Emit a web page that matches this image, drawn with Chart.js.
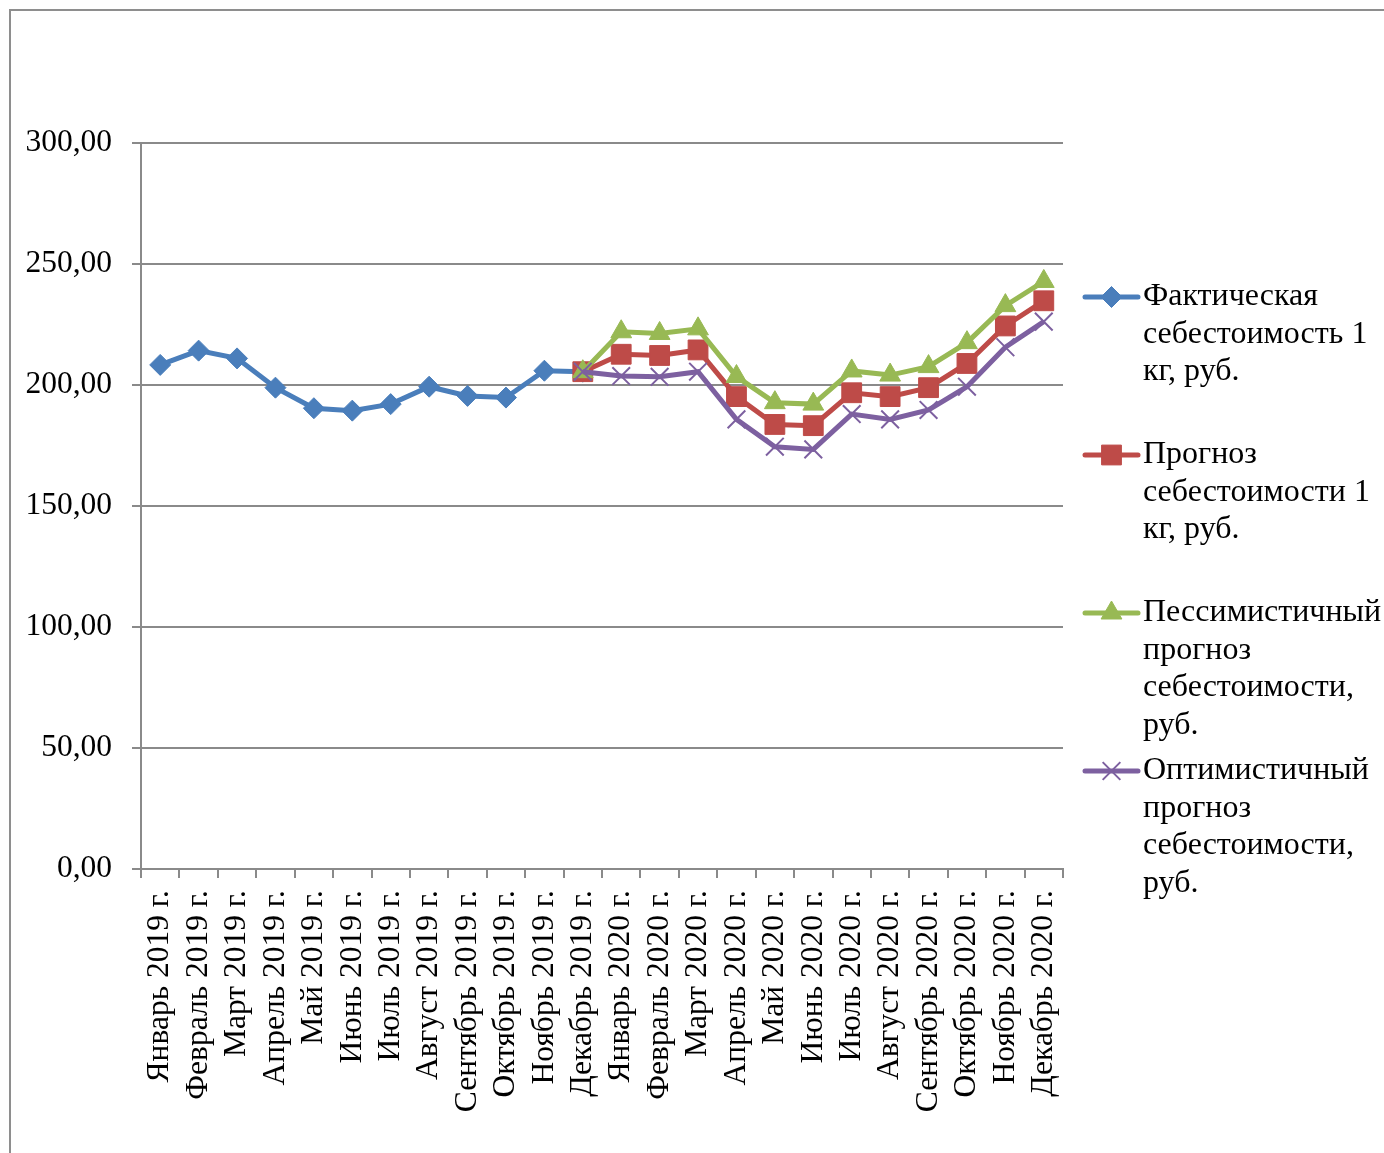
<!DOCTYPE html>
<html lang="ru">
<head>
<meta charset="utf-8">
<title>Себестоимость 1 кг, руб.</title>
<script src="https://cdn.jsdelivr.net/npm/chart.js@4/dist/chart.umd.min.js"></script>
<style>
  html, body { margin: 0; padding: 0; background: #ffffff; overflow: hidden; }
  #frame {
    position: absolute; left: 9px; top: 9px; width: 1420px; height: 1200px;
    border: 2px solid #8e8e8e; box-sizing: border-box;
  }
  #chart { position: absolute; left: 0; top: 0; }
</style>
</head>
<body>
<div id="frame"></div>
<canvas id="chart" width="1384" height="1153"></canvas>
<script>
// Months on the category axis
const categories = [
  'Январь 2019 г.', 'Февраль 2019 г.', 'Март 2019 г.', 'Апрель 2019 г.',
  'Май 2019 г.', 'Июнь 2019 г.', 'Июль 2019 г.', 'Август 2019 г.',
  'Сентябрь 2019 г.', 'Октябрь 2019 г.', 'Ноябрь 2019 г.', 'Декабрь 2019 г.',
  'Январь 2020 г.', 'Февраль 2020 г.', 'Март 2020 г.', 'Апрель 2020 г.',
  'Май 2020 г.', 'Июнь 2020 г.', 'Июль 2020 г.', 'Август 2020 г.',
  'Сентябрь 2020 г.', 'Октябрь 2020 г.', 'Ноябрь 2020 г.', 'Декабрь 2020 г.'
];

// Actual cost of 1 kg, rub. (2019)
const actualCost = [
  208.3, 214.2, 211.0, 198.9, 190.4, 189.4, 192.1, 199.3, 195.5, 194.8, 205.9, 205.5,
  null, null, null, null, null, null, null, null, null, null, null, null
];

// Forecast of cost of 1 kg, rub. (from December 2019)
const forecastCost = [
  null, null, null, null, null, null, null, null, null, null, null, 205.5,
  212.7, 212.2, 214.5, 195.2, 183.7, 183.2, 196.8, 195.2, 198.9, 208.9, 224.4, 234.8
];

// Pessimistic forecast, rub.
const pessimisticCost = [
  null, null, null, null, null, null, null, null, null, null, null, 205.5,
  222.0, 221.3, 223.2, 203.5, 192.7, 192.1, 205.8, 204.1, 207.6, 217.5, 232.8, 242.8
];

// Optimistic forecast, rub.
const optimisticCost = [
  null, null, null, null, null, null, null, null, null, null, null, 205.5,
  203.7, 203.4, 205.5, 185.8, 174.5, 173.4, 188.0, 185.8, 189.7, 199.3, 215.6, 226.2
];

// Legend captions, one array of lines per series
const seriesNames = [
  ['Фактическая', 'себестоимость 1', 'кг, руб.'],
  ['Прогноз', 'себестоимости 1', 'кг, руб.'],
  ['Пессимистичный', 'прогноз', 'себестоимости,', 'руб.'],
  ['Оптимистичный', 'прогноз', 'себестоимости,', 'руб.']
];

// Value axis range
const yMin = 0;
const yMax = 300;
const yStep = 50;

const FONT = '"Liberation Serif", "Times New Roman", serif';
const GRID = '#8a8a8a';

function series(name, data, color, style, radius, order, borderW) {
  return {
    label: name.join(' '),
    legendLines: name,
    data: data,
    borderColor: color,
    backgroundColor: color,
    borderWidth: 5,
    pointStyle: style,
    pointRadius: radius,
    pointHoverRadius: radius,
    pointBackgroundColor: color,
    pointBorderColor: color,
    pointBorderWidth: borderW,
    tension: 0,
    spanGaps: false,
    order: order
  };
}

// Legend drawn to the right of the plot, one slot per series
const sideLegend = {
  id: 'sideLegend',
  afterDraw(chart) {
    const ctx = chart.ctx;
    const x0 = 1085, x1 = 1138, tx = 1143;
    const firstY = 297, slot = 158, lineH = 37.5;
    ctx.save();
    chart.data.datasets.forEach((ds, i) => {
      const y = firstY + slot * i;
      ctx.strokeStyle = ds.borderColor;
      ctx.lineWidth = ds.borderWidth;
      ctx.lineCap = 'round';
      ctx.beginPath();
      ctx.moveTo(x0, y);
      ctx.lineTo(x1, y);
      ctx.stroke();
      ctx.fillStyle = ds.pointBackgroundColor;
      ctx.strokeStyle = ds.pointBorderColor;
      ctx.lineWidth = ds.pointBorderWidth;
      ctx.lineCap = 'butt';
      Chart.helpers.drawPoint(ctx, {
        pointStyle: ds.pointStyle,
        radius: ds.pointRadius,
        borderWidth: ds.pointBorderWidth,
        rotation: 0
      }, (x0 + x1) / 2, y);
      ctx.fillStyle = '#000000';
      ctx.font = '32px ' + FONT;
      ctx.textAlign = 'left';
      ctx.textBaseline = 'middle';
      ds.legendLines.forEach((line, k) => {
        ctx.fillText(line, tx, y + k * lineH);
      });
    });
    ctx.restore();
  }
};

new Chart(document.getElementById('chart'), {
  type: 'line',
  data: {
    labels: categories,
    datasets: [
      series(seriesNames[0], actualCost, '#4A7EBB', 'rectRot', 10.5, 4, 1),
      series(seriesNames[1], forecastCost, '#BE4B48', 'rect', 14, 3, 1),
      series(seriesNames[2], pessimisticCost, '#98B954', 'triangle', 12, 2, 1),
      series(seriesNames[3], optimisticCost, '#7D60A0', 'crossRot', 12.5, 1, 2)
    ]
  },
  options: {
    responsive: false,
    devicePixelRatio: 1,
    animation: false,
    events: [],
    layout: { padding: { top: 143, right: 321, bottom: 0, left: 0 } },
    plugins: {
      legend: { display: false },
      tooltip: { enabled: false }
    },
    scales: {
      x: {
        offset: true,
        grid: {
          offset: true,
          drawOnChartArea: false,
          drawTicks: true,
          tickLength: 9,
          color: GRID,
          lineWidth: 2
        },
        border: { display: true, color: GRID, width: 2 },
        ticks: {
          autoSkip: false,
          maxRotation: 90,
          minRotation: 90,
          padding: 12,
          color: '#000000',
          font: { family: FONT, size: 31.5 }
        },
        afterFit(scale) { scale.height = 284; }
      },
      y: {
        min: yMin,
        max: yMax,
        grid: {
          color: GRID,
          lineWidth: 2,
          drawTicks: true,
          tickLength: 9
        },
        border: { display: true, color: GRID, width: 2 },
        ticks: {
          stepSize: yStep,
          padding: 20,
          color: '#000000',
          font: { family: FONT, size: 31.5 },
          callback: (v) => Number(v).toFixed(2).replace('.', ',')
        },
        afterFit(scale) { scale.width = 141; }
      }
    }
  },
  plugins: [sideLegend]
});
</script>
</body>
</html>
